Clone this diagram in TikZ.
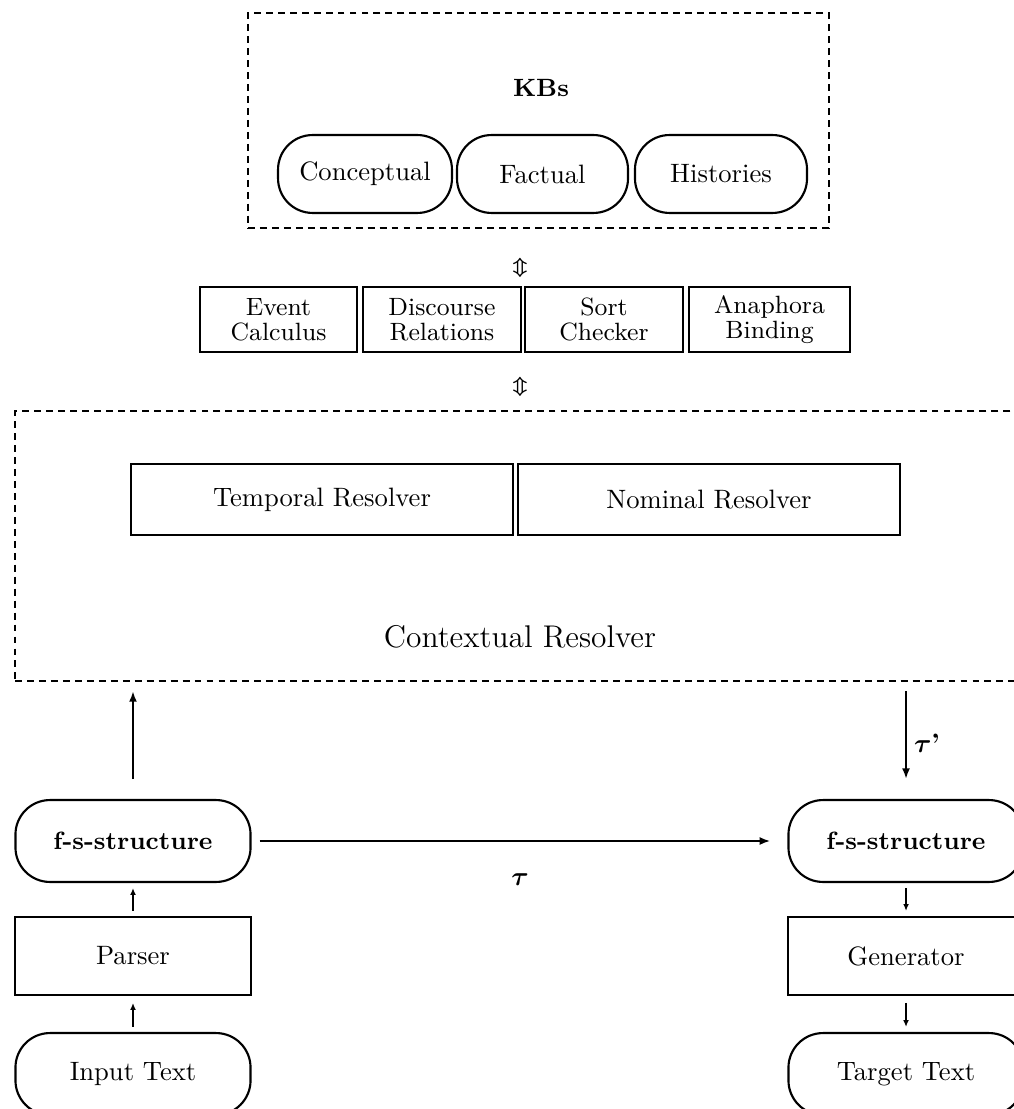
\documentclass[tikz,border=0pt]{standalone}
\usepackage{amsmath,bm}
\usetikzlibrary{arrows.meta}
\begin{document}
\begin{tikzpicture}[x=0.376pt,y=-0.376pt,
  every node/.style={font=\fontsize{10}{12}\selectfont, inner sep=0pt, line width=0.8pt},
  dbox/.style={draw, dash pattern=on 2.6pt off 1.9pt},
  oval/.style={draw, rounded corners=13pt, minimum width=#1, minimum height=29.3pt},
  lowoval/.style={draw, rounded corners=13pt, minimum width=88.4pt, minimum height=30.8pt},
  rbox/.style={draw, minimum width=#1, minimum height=24.4pt, align=center, font=\fontsize{9.4}{9.4}\selectfont},
  resbox/.style={draw, minimum width=143.6pt, minimum height=26.7pt},
  colbox/.style={draw, minimum width=88.7pt, minimum height=29.3pt},
  bigarr/.style={line width=0.9pt, -{Latex[length=4pt,width=3pt]}},
  smallarr/.style={line width=0.6pt, -{Latex[length=2.6pt,width=2.2pt]}},
  dsym/.style={font=\fontsize{7.5}{8}\selectfont},
  bold/.style={font=\fontsize{9.4}{11}\selectfont\bfseries}
]
\useasboundingbox (0,0) rectangle (1013,1109);

% Knowledge bases
\node[dbox, minimum width=218.5pt, minimum height=80.8pt] (kb) at (538.5,120.5) {};
\node[bold] (kbs) at (541,88) {KBs};
\node[oval=65.4pt] (conc) at (365,174) {Conceptual};
\node[oval=64.3pt] (fact) at (542.5,174) {Factual};
\node[oval=64.7pt] (hist) at (721,174) {Histories};

% double arrows
\node[dsym] (d1) at (520,268) {$\boldsymbol{\Updownarrow}$};
\node[dsym] (d2) at (520,387) {$\boldsymbol{\Updownarrow}$};

% modules
\node[rbox=59.0pt] (ev) at (278.5,319.5) {Event\\Calculus};
\node[rbox=59.4pt] (dr) at (442,319.5) {Discourse\\Relations};
\node[rbox=59.4pt] (sc) at (604,319.5) {Sort\\Checker};
\node[rbox=60.5pt] (ab) at (769.5,319.5) {Anaphora\\Binding};

% contextual resolver
\node[dbox, minimum width=381.6pt, minimum height=101.5pt] (ctx) at (522.5,546) {};
\node[resbox] (temp) at (322,499.5) {Temporal Resolver};
\node[resbox] (nom) at (709,499.5) {Nominal Resolver};
\node[font=\fontsize{11.8}{14}\selectfont] (ctxl) at (520,637) {Contextual Resolver};

% left column
\node[lowoval, bold] (fs1) at (133,841) {f-s-structure};
\node[colbox] (par) at (133,956) {Parser};
\node[lowoval] (inp) at (133,1074) {Input Text};

% right column
\node[lowoval, bold] (fs2) at (906,841) {f-s-structure};
\node[colbox] (gen) at (906,956) {Generator};
\node[lowoval] (tgt) at (906,1074) {Target Text};

% connectors
\draw[bigarr, shorten <=7.5pt, shorten >=3.4pt] (fs1.north) -- (fs1.north |- ctx.south);
\draw[bigarr, shorten <=3.4pt, shorten >=7.5pt] (fs2.north |- ctx.south) -- (fs2.north);
\node[font=\fontsize{10}{12}\selectfont] (taup) at (927,743) {$\boldsymbol{\tau}$\textbf{'}};
\draw[bigarr, shorten <=3pt, shorten >=6.4pt] (fs1.east) -- (fs2.west);
\node (tau) at (520,880) {$\boldsymbol{\tau}$};

\draw[smallarr, shorten <=1.9pt, shorten >=1.9pt] (par.north) -- (fs1.south);
\draw[smallarr, shorten <=1.9pt, shorten >=2.6pt] (inp.north) -- (par.south);
\draw[smallarr, shorten <=1.9pt, shorten >=1.9pt] (fs2.south) -- (gen.north);
\draw[smallarr, shorten <=2.6pt, shorten >=1.9pt] (gen.south) -- (tgt.north);
\end{tikzpicture}
\end{document}
